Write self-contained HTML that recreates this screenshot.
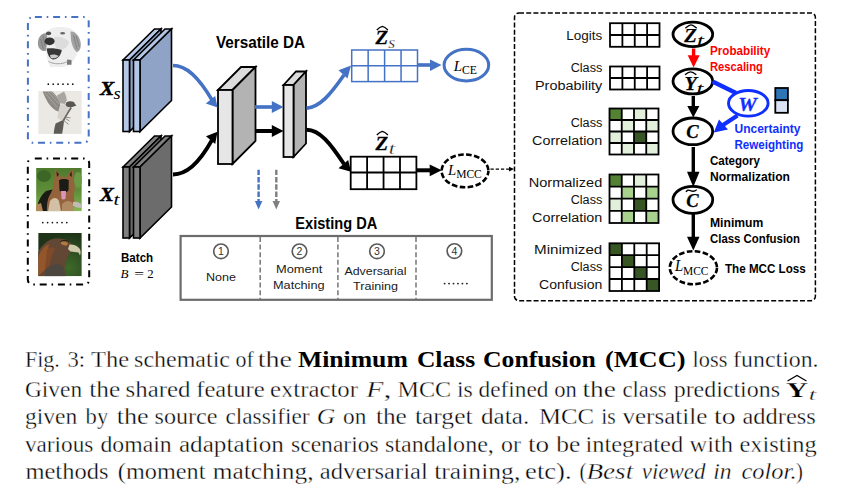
<!DOCTYPE html>
<html><head><meta charset="utf-8">
<style>
html,body{margin:0;padding:0;background:#fff;}
body{width:852px;height:495px;overflow:hidden;}
svg{display:block;}
.sn{font-family:"Liberation Sans",sans-serif;}
.sf{font-family:"Liberation Serif",serif;}
</style></head>
<body>
<svg width="852" height="495" viewBox="0 0 852 495">
<rect width="852" height="495" fill="#fff"/>

<!-- LEFT BOXES -->
<rect x="27.9" y="17.1" width="60.8" height="125.6" rx="5" fill="none" stroke="#4472c4" stroke-width="2" stroke-dasharray="7 4.8 1.6 4.8" stroke-dashoffset="-2"/>
<rect x="27.8" y="158.4" width="61.4" height="126.2" rx="5" fill="none" stroke="#000" stroke-width="2" stroke-dasharray="7 4.8 1.6 4.8" stroke-dashoffset="-2"/>

<!-- dog sketch -->
<defs>
 <filter id="bl" x="-20%" y="-20%" width="140%" height="140%"><feGaussianBlur stdDeviation="0.7"/></filter>
 <filter id="bl2" x="-20%" y="-20%" width="140%" height="140%"><feGaussianBlur stdDeviation="0.6"/></filter>
 <clipPath id="c1"><rect x="37" y="25" width="44" height="42"/></clipPath>
 <clipPath id="c2"><rect x="38.2" y="91" width="43.6" height="43.2"/></clipPath>
 <clipPath id="c3"><rect x="36.1" y="168" width="45.7" height="43.3"/></clipPath>
 <clipPath id="c4"><rect x="38.2" y="233" width="43.6" height="43.3"/></clipPath>
 <linearGradient id="gshep" x1="0" y1="0" x2="0" y2="1"><stop offset="0" stop-color="#4d7a2c"/><stop offset="0.55" stop-color="#5f8f3a"/><stop offset="1" stop-color="#86b852"/></linearGradient>
 <radialGradient id="geag" cx="0.7" cy="0.8" r="0.8"><stop offset="0" stop-color="#3e6a2a"/><stop offset="1" stop-color="#1f3318"/></radialGradient>
</defs>
<g clip-path="url(#c1)">
 <g filter="url(#bl2)">
  <path d="M45,33 C49,27.5 59,26 67,27.5 C74,29 78,34 79,40 C80,48 77,56 73,61 C70,65 65,67.5 58,67.5 L50,67.5 C48,62 46.5,56 45.5,50 Z" fill="#eeeeee"/>
  <path d="M54,37 C59,36 66,38 69,42 C68,47 64,50 58,50 C55,48 54,42 54,37 Z" fill="#dcdcdc"/>
  <path d="M38.5,39 C40,34.5 44,32.5 47,33.5 C47.5,39 46.8,45 46,50.5 C43.5,52 40.5,50.5 38.5,47 C37.5,44.5 37.8,41.5 38.5,39 Z" fill="#979797"/>
  <path d="M70.5,31.5 C75,31 79,35.5 80.5,41.5 C81.5,47.5 80,51.5 76.5,52 C73.5,49.5 72,45 71,40 Z" fill="#a2a2a2"/>
  <path d="M40.5,39 L43.5,49 M43,36 L45,46 M73.5,35 L77,49 M76,36 L79.5,47" stroke="#777" stroke-width="0.8"/>
  <ellipse cx="48.6" cy="33.4" rx="2.6" ry="1.8" fill="#505050"/>
  <ellipse cx="62.6" cy="33.3" rx="2.5" ry="1.3" fill="#6a6a6a"/>
  <ellipse cx="49.6" cy="41.3" rx="5" ry="3.9" fill="#333"/>
  <path d="M46.7,48.5 C51.5,48 57,48.5 61.8,50 C61.2,55 57.5,59.5 53,59.5 C49.5,59 47.2,54 46.7,48.5 Z" fill="#383838"/>
  <path d="M50,55 C53,54 56.5,54.5 58.8,56 C56.5,58.2 53.5,58.8 50.8,58 Z" fill="#c9c9c9"/>
  <path d="M67,59.5 L71.5,60 L71.5,64.8 L67,64.8 Z" fill="#787878"/>
  <path d="M48.5,61.5 C54,64.5 62,64.5 67.5,61.5" stroke="#a5a5a5" stroke-width="1" fill="none"/>
 </g>
</g>
<g fill="#111"><circle cx="48.3" cy="84.2" r="0.85"/><circle cx="53.2" cy="84.2" r="0.85"/><circle cx="58.1" cy="84.2" r="0.85"/><circle cx="63.0" cy="84.2" r="0.85"/><circle cx="67.9" cy="84.2" r="0.85"/><circle cx="72.8" cy="84.2" r="0.85"/></g>
<!-- bird sketch -->
<g clip-path="url(#c2)">
 <rect x="38.2" y="91" width="43.6" height="43.2" fill="#ebe9e4"/>
 <g filter="url(#bl)">
  <path d="M42.6,91.4 L52.3,91.4 C56,95 58.5,98.5 60.2,102.1 L60.2,112.3 L55.6,110.4 C52,108 50,105.5 48.2,103 C46,99 44,95 42.6,91.4 Z" fill="#8d8a85"/>
  <path d="M45,93 L57,107 M48,92 L59,104 M51,92 L59.5,101" stroke="#b5b2ac" stroke-width="0.7" fill="none"/>
  <path d="M57,95.6 L64,91.4 C65.8,94.5 66.7,97.5 66.7,100.2 L64.9,104 L59.3,103 Z" fill="#a9a6a0"/>
  <path d="M60.2,104.9 C63,104 67,103.5 70.5,106.7 C68,111 65,116 62.1,120.7 L57.4,117.9 C58,113 59,108 60.2,104.9 Z" fill="#d6d3cc"/>
  <path d="M70.5,106.7 C68,111 65,116 62.1,120.7 L64,121.6 C66.5,117 69,112 72,108 Z" fill="#6a6763"/>
  <ellipse cx="70.3" cy="104.2" rx="4.6" ry="2.9" fill="#5a5753"/>
  <path d="M74.5,103.8 L76.5,105.6 L74,106.2 Z" fill="#4a4744"/>
  <path d="M55.6,123.5 L62,120.5 L64,121.6 C63.5,125.5 63,129.5 62.1,133.8 L53.7,133.8 C54,130 54.8,126.5 55.6,123.5 Z" fill="#5e5b57"/>
  <path d="M64.9,117 L70.5,117.9 M64,120.7 L68.6,124.4 M65.5,118.5 L69.5,121" stroke="#7a7772" stroke-width="0.8" fill="none"/>
 </g>
</g>
<g fill="#111"><circle cx="42.8" cy="222.6" r="0.85"/><circle cx="47.6" cy="222.6" r="0.85"/><circle cx="52.4" cy="222.6" r="0.85"/><circle cx="57.2" cy="222.6" r="0.85"/><circle cx="62.0" cy="222.6" r="0.85"/><circle cx="66.8" cy="222.6" r="0.85"/></g>
<!-- shepherd -->
<g clip-path="url(#c3)">
 <rect x="36.1" y="168" width="45.7" height="43.3" fill="url(#gshep)"/>
 <g filter="url(#bl)">
  <ellipse cx="44" cy="176" rx="7" ry="6" fill="#3b6626"/>
  <ellipse cx="78" cy="180" rx="4" ry="8" fill="#6a9a44"/>
  <path d="M37,211.3 C37,203 40,196 46,191 L54.5,189 L55,207 L48,211.3 Z" fill="#1e1a17"/>
  <path d="M54.5,179 L54.8,168.8 C57,170.5 59.5,174 60.8,177 L67,177 C68.2,173.5 70.5,170 73.3,169.2 L73.6,180 C75,185 75,190 74,194 C73.5,199 75,203 77,206 L60,211.3 L47,211.3 C46.5,204 48,197 51,193 C53,189 53.8,184 54.5,179 Z" fill="#94633a"/>
  <path d="M56.5,171 L59,174.5 L57,177 Z M71.5,171 L69.5,175 L71.8,177 Z" fill="#2a1e16"/>
  <path d="M59,180 C61.5,178.5 66.5,178.5 68.8,180 L68.5,190.5 C66.5,193 61.5,193 59.5,190.5 Z" fill="#1f1a18"/>
  <path d="M61,191 L66,191 L65.5,198.8 C64.5,199.8 62.5,199.8 61.5,198.8 Z" fill="#dc93bd"/>
  <path d="M50,201 C53,197 57,197 59,201 L61,211.3 L48,211.3 Z" fill="#d2bfa6"/>
  <path d="M62,204 C66,200 71,200 73,204 L74,211.3 L62,211.3 Z" fill="#b08a62"/>
  <path d="M73,202 C77,201 80,203 82,205 L82,208 C78,208 75,207 73,206 Z" fill="#bfbcb6"/>
  <path d="M36,205 L41,203 L43,211.3 L36,211.3 Z" fill="#b3875a"/>
 </g>
</g>
<!-- eagle -->
<g clip-path="url(#c4)">
 <rect x="38.2" y="233" width="43.6" height="43.3" fill="url(#geag)"/>
 <g filter="url(#bl)">
  <path d="M38,252 C42,245 48,239.5 55,238.5 C61,238 66,239 69.5,241.5 L72,246 L70,253 C67,257 65,263 64.5,269 L65.5,276.3 L38,276.3 Z" fill="#634634"/>
  <path d="M38,258 C40,251 44,246 49,244 C48,252 46,261 45,270 L38,276.3 Z" fill="#93542c"/>
  <path d="M47,250 C50,247 53,247 55,249 C52,254 50,261 49,268 L45,271 Z" fill="#80492a"/>
  <path d="M45,270 C50,264 57,263 63,266 L65.5,276.3 L45,276.3 Z" fill="#4e4641"/>
  <path d="M69.5,244.5 C73,244 77,245.5 79.5,248.5 C80.8,250.5 81,253 80,255.5 L78.5,252.5 C76,251.8 73,252.2 70.5,251.5 L68,249 Z" fill="#cfc9ab"/>
  <path d="M61,242 C63,241.2 66,241.5 68,243 L67,245.5 C65,245.8 62.5,245 61,244 Z" fill="#b07a3e"/>
  <path d="M60.5,241.5 C63,240 67,240 69,242" stroke="#2a2018" stroke-width="1" fill="none"/>
 </g>
</g>

<!-- X labels -->
<g class="sf" font-weight="bold" font-style="italic" stroke="#000" stroke-width="0.45">
<text x="100" y="94.7" font-size="18.5" textLength="14.2" lengthAdjust="spacingAndGlyphs">X</text>
<text x="100" y="200.8" font-size="18.5" textLength="13.8" lengthAdjust="spacingAndGlyphs">X</text>
</g>
<g class="sf" font-style="italic">
<text x="113.6" y="98.6" font-size="16.5" textLength="7.2" lengthAdjust="spacingAndGlyphs">s</text>
<text x="113.6" y="205" font-size="16" textLength="6" lengthAdjust="spacingAndGlyphs">t</text>
</g>
<!-- blue slabs -->
<g stroke="#000" stroke-width="1.6" stroke-linejoin="miter">
 <polygon points="123,60 154.5,29 161,29 129.5,60" fill="#b4c7e7"/>
 <polygon points="129.5,60 161,29 161,100.5 129.5,131.5" fill="#8ea3c6"/>
 <rect x="123" y="60" width="6.5" height="71.5" fill="#b4c7e7"/>
 <polygon points="133.5,60 165,29 171.5,29 140,60" fill="#b4c7e7"/>
 <polygon points="140,60 171.5,29 171.5,100.5 140,131.5" fill="#8ea3c6"/>
 <rect x="133.5" y="60" width="6.5" height="71.5" fill="#b4c7e7"/>
</g>
<!-- dark slabs -->
<g stroke="#000" stroke-width="1.6">
 <polygon points="123,167 154.5,136 161,136 129.5,167" fill="#7f7f7f"/>
 <polygon points="129.5,167 161,136 161,207 129.5,238" fill="#6c6c6c"/>
 <rect x="123" y="167" width="6.5" height="71" fill="#7f7f7f"/>
 <polygon points="133.5,167 165,136 171.5,136 140,167" fill="#7f7f7f"/>
 <polygon points="140,167 171.5,136 171.5,207 140,238" fill="#6c6c6c"/>
 <rect x="133.5" y="167" width="6.5" height="71" fill="#7f7f7f"/>
</g>

<text x="121" y="262" class="sn" font-size="12.8" font-weight="bold" textLength="32.2" lengthAdjust="spacingAndGlyphs">Batch</text>
<text x="120.6" y="277.7" class="sf" font-size="12.8" font-style="italic" textLength="8" lengthAdjust="spacingAndGlyphs">B</text>
<text x="134.2" y="277.7" class="sf" font-size="12.8" textLength="9.8" lengthAdjust="spacingAndGlyphs">=</text><text x="147.2" y="277.7" class="sf" font-size="12.8" textLength="6.4" lengthAdjust="spacingAndGlyphs">2</text>

<!-- Versatile DA -->
<text x="216" y="48" class="sn" font-size="16" font-weight="bold" textLength="89" lengthAdjust="spacingAndGlyphs">Versatile DA</text>

<!-- blocks -->
<g stroke="#000" stroke-width="1.8" stroke-linejoin="miter">
 <polygon points="218,90 241,67 255.5,67 232.5,90" fill="#dcdcdc"/>
 <polygon points="232.5,90 255.5,67 255.5,141 232.5,164" fill="#b3b3b3"/>
 <rect x="218" y="90" width="14.5" height="74" fill="#e6e6e6"/>
 <polygon points="283.5,85 296,71.5 306,71.5 293.5,85" fill="#dcdcdc"/>
 <polygon points="293.5,85 306,71.5 306,143.5 293.5,157" fill="#b3b3b3"/>
 <rect x="283.5" y="85" width="10" height="72" fill="#e6e6e6"/>
</g>

<!-- arrows left -->
<g fill="none" stroke-linecap="butt">
 <path d="M173,65.5 C186,65.5 198,76 212,100" stroke="#4472c4" stroke-width="3.5"/>
 <path d="M173,174.5 C186,174 198,165 212,140" stroke="#000" stroke-width="3.8"/>
 <path d="M255,107 L273,107" stroke="#4472c4" stroke-width="3.6"/>
 <path d="M255,131 L273,131" stroke="#000" stroke-width="4"/>
 <path d="M306.5,108.3 C320,107 330,95 344,75" stroke="#4472c4" stroke-width="3.6"/>
 <path d="M306.5,129.7 C320,130 330,143 344,164" stroke="#000" stroke-width="4"/>
 <path d="M417,65 L431,65" stroke="#4472c4" stroke-width="3.6"/>
 <path d="M417,170.3 L431,170.3" stroke="#000" stroke-width="4"/>
</g>
<polygon points="217.5,107.5 205.8,103.6 215.2,96" fill="#4472c4"/>
<polygon points="217.5,131.7 206,136.2 215.2,144" fill="#000"/>
<polygon points="283.5,107 271.8,101 271.8,113" fill="#4472c4"/>
<polygon points="283.5,131 271.8,125 271.8,137" fill="#000"/>
<polygon points="351,65.5 338.5,70.3 347.5,78.5" fill="#4472c4"/>
<polygon points="351,171.8 338.5,168.2 348.2,160" fill="#000"/>
<polygon points="441.5,65 430,59.6 430,71" fill="#4472c4"/>
<polygon points="441.7,170.3 429.7,164.6 429.7,176.3" fill="#000"/>

<!-- grids Zs Zt -->
<g fill="none" stroke="#4472c4" stroke-width="1.5">
 <rect x="351.7" y="50" width="65.8" height="31.6"/>
 <path d="M351.7,65.8 H417.5 M368.15,50 V81.6 M384.6,50 V81.6 M401.05,50 V81.6"/>
</g>
<g fill="none" stroke="#000" stroke-width="1.8">
 <rect x="350.7" y="156.7" width="65.7" height="32.5"/>
 <path d="M350.7,172.5 H416.4 M367.1,156.7 V189.2 M383.55,156.7 V189.2 M400,156.7 V189.2"/>
</g>
<!-- Z labels -->
<g class="sf" font-weight="bold" font-style="italic" stroke="#000" stroke-width="0.3">
<text x="375.6" y="43.5" font-size="19.5" textLength="12.6" lengthAdjust="spacingAndGlyphs">Z</text>
<text x="375.6" y="149.5" font-size="19.5" textLength="12.6" lengthAdjust="spacingAndGlyphs">Z</text>
</g>
<path d="M376.8,30 C378.8,28 380.85,26.7 382.35,26.4 C383.85,26.7 385.9,28 387.9,30" fill="none" stroke="#000" stroke-width="1.3"/><path d="M376.8,135 C378.8,133 380.85,131.70000000000002 382.35,131.4 C383.85,131.70000000000002 385.9,133 387.9,135" fill="none" stroke="#000" stroke-width="1.3"/>
<g class="sf" font-style="italic" stroke="#fff" stroke-width="0.3">
<text x="388.2" y="47.8" font-size="17" textLength="7" lengthAdjust="spacingAndGlyphs">s</text>
<text x="388.8" y="153.8" font-size="16" textLength="6.4" lengthAdjust="spacingAndGlyphs">t</text>
</g>
<!-- L_CE -->
<ellipse cx="466.4" cy="65.1" rx="22.3" ry="15.8" fill="none" stroke="#4472c4" stroke-width="3"/>
<text x="453.8" y="71" class="sf" font-size="15.5" font-style="italic" textLength="8.4" lengthAdjust="spacingAndGlyphs">L</text>
<text x="462" y="73.7" class="sf" font-size="11.7" textLength="15" lengthAdjust="spacingAndGlyphs">CE</text>
<!-- L_MCC -->
<ellipse cx="465" cy="170.9" rx="23.4" ry="16.4" fill="none" stroke="#000" stroke-width="2.6" stroke-dasharray="5.6 2.4" stroke-dashoffset="1"/>
<text x="448" y="174.5" class="sf" font-size="15.2" font-style="italic" textLength="8.2" lengthAdjust="spacingAndGlyphs">L</text>
<text x="456.2" y="177.7" class="sf" font-size="11.6" textLength="25.6" lengthAdjust="spacingAndGlyphs">MCC</text>
<path d="M490.5,169.1 L510,169.1" stroke="#000" stroke-width="1.2" stroke-dasharray="3.3 1.9" fill="none"/>
<polygon points="514,169.1 509,166.8 509,171.4" fill="#000"/>

<!-- down dashed arrows -->
<path d="M258.6,169.7 V202" stroke="#4472c4" stroke-width="2.4" stroke-dasharray="5.4 1.9" fill="none"/>
<polygon points="254.9,201 262.3,201 258.6,209.5" fill="#4472c4"/>
<path d="M276.3,169.7 V202" stroke="#7f7f7f" stroke-width="2.4" stroke-dasharray="5.4 1.9" fill="none"/>
<polygon points="272.6,201 280,201 276.3,209.5" fill="#7f7f7f"/>

<text x="295.3" y="228.7" class="sn" font-size="15.6" font-weight="bold" textLength="82" lengthAdjust="spacingAndGlyphs">Existing DA</text>

<!-- table -->
<rect x="180.6" y="236" width="311.2" height="63.8" fill="none" stroke="#6c6c6c" stroke-width="2.2"/>
<path d="M260.2,237 V299 M337.9,237 V299 M416,237 V299" stroke="#767676" stroke-width="1.5" stroke-dasharray="5 2.6" fill="none"/>
<g fill="none" stroke="#5a5a5a" stroke-width="1.6">
 <circle cx="221" cy="251.3" r="7.3"/>
 <circle cx="299.5" cy="251.3" r="7.3"/>
 <circle cx="377" cy="251.3" r="7.3"/>
 <circle cx="454.4" cy="251.1" r="7.3"/>
</g>
<g class="sn" font-size="10.5" fill="#333" text-anchor="middle">
 <text x="221" y="254.8">1</text><text x="299.5" y="254.8">2</text><text x="377" y="254.8">3</text><text x="454.4" y="254.6">4</text>
</g>
<g class="sn" font-size="11" fill="#1a1a1a">
 <text x="206" y="281" textLength="30" lengthAdjust="spacingAndGlyphs">None</text>
 <text x="276" y="273" textLength="46.4" lengthAdjust="spacingAndGlyphs">Moment</text>
 <text x="273" y="289" textLength="51.6" lengthAdjust="spacingAndGlyphs">Matching</text>
 <text x="344.4" y="275" textLength="62" lengthAdjust="spacingAndGlyphs">Adversarial</text>
 <text x="353" y="290" textLength="45" lengthAdjust="spacingAndGlyphs">Training</text>
</g>
<g fill="#222"><circle cx="444.60" cy="283.6" r="0.95"/><circle cx="449.05" cy="283.6" r="0.95"/><circle cx="453.50" cy="283.6" r="0.95"/><circle cx="457.95" cy="283.6" r="0.95"/><circle cx="462.40" cy="283.6" r="0.95"/><circle cx="466.85" cy="283.6" r="0.95"/></g>

<!-- RIGHT PANEL -->
<rect x="514.5" y="12.9" width="300.9" height="287.8" rx="4.5" fill="none" stroke="#000" stroke-width="1.5" stroke-dasharray="5 2.2"/>

<g class="sn" font-size="13.7" fill="#111">
 <text x="566.3" y="39.8" textLength="36" lengthAdjust="spacingAndGlyphs">Logits</text>
 <text x="570.7" y="72.2" textLength="31.6" lengthAdjust="spacingAndGlyphs">Class</text>
 <text x="535.0" y="89.6" textLength="67.3" lengthAdjust="spacingAndGlyphs">Probability</text>
 <text x="570.7" y="127.3" textLength="31.6" lengthAdjust="spacingAndGlyphs">Class</text>
 <text x="532.1" y="144.9" textLength="70.2" lengthAdjust="spacingAndGlyphs">Correlation</text>
 <text x="528.7" y="186.8" textLength="73.6" lengthAdjust="spacingAndGlyphs">Normalized</text>
 <text x="570.7" y="204" textLength="31.6" lengthAdjust="spacingAndGlyphs">Class</text>
 <text x="532.1" y="221.5" textLength="70.2" lengthAdjust="spacingAndGlyphs">Correlation</text>
 <text x="534.1" y="254.2" textLength="68.2" lengthAdjust="spacingAndGlyphs">Minimized</text>
 <text x="570.7" y="271.4" textLength="31.6" lengthAdjust="spacingAndGlyphs">Class</text>
 <text x="539.0" y="289" textLength="63.3" lengthAdjust="spacingAndGlyphs">Confusion</text>
</g>

<!-- grids right -->
<g fill="none" stroke="#000" stroke-width="1.8">
 <rect x="610" y="23.2" width="49.5" height="23.6"/>
 <path d="M610,35 H659.5 M622.4,23.2 V46.8 M634.75,23.2 V46.8 M647.1,23.2 V46.8"/>
 <rect x="610" y="66.5" width="49.5" height="23"/>
 <path d="M610,78 H659.5 M622.4,66.5 V89.5 M634.75,66.5 V89.5 M647.1,66.5 V89.5"/>
</g>
<g id="cc">
 <rect x="609.5" y="108.5" width="12.25" height="11.5" fill="#548235"/>
 <rect x="634" y="108.5" width="12.25" height="11.5" fill="#e2efda"/>
 <rect x="621.75" y="120" width="12.25" height="11.5" fill="#e2efda"/>
 <rect x="646.25" y="120" width="12.25" height="11.5" fill="#e2efda"/>
 <rect x="609.5" y="131.5" width="12.25" height="11.5" fill="#e2efda"/>
 <rect x="634" y="131.5" width="12.25" height="11.5" fill="#375623"/>
 <rect x="621.75" y="143" width="12.25" height="11.5" fill="#e2efda"/>
 <rect x="646.25" y="143" width="12.25" height="11.5" fill="#e2efda"/>
</g>
<g fill="none" stroke="#000" stroke-width="1.8">
 <rect x="609.5" y="108.5" width="49" height="46"/>
 <path d="M609.5,120 H658.5 M609.5,131.5 H658.5 M609.5,143 H658.5 M621.75,108.5 V154.5 M634,108.5 V154.5 M646.25,108.5 V154.5"/>
</g>
<g>
 <rect x="609.5" y="174.5" width="12.25" height="12.1" fill="#548235"/>
 <rect x="634" y="174.5" width="12.25" height="12.1" fill="#e2efda"/>
 <rect x="621.75" y="186.6" width="12.25" height="12.1" fill="#a9d18e"/>
 <rect x="646.25" y="186.6" width="12.25" height="12.1" fill="#a9d18e"/>
 <rect x="609.5" y="198.7" width="12.25" height="12.1" fill="#e2efda"/>
 <rect x="634" y="198.7" width="12.25" height="12.1" fill="#375623"/>
 <rect x="621.75" y="210.8" width="12.25" height="12.1" fill="#a9d18e"/>
 <rect x="646.25" y="210.8" width="12.25" height="12.1" fill="#a9d18e"/>
</g>
<g fill="none" stroke="#000" stroke-width="1.8">
 <rect x="609.5" y="174.5" width="49" height="48.5"/>
 <path d="M609.5,186.6 H658.5 M609.5,198.7 H658.5 M609.5,210.8 H658.5 M621.75,174.5 V223 M634,174.5 V223 M646.25,174.5 V223"/>
</g>
<g fill="#375623">
 <rect x="609.5" y="243.3" width="12.4" height="11.9"/>
 <rect x="621.9" y="255.2" width="12.4" height="11.9"/>
 <rect x="634.3" y="267.1" width="12.4" height="11.9"/>
 <rect x="646.7" y="279" width="12.4" height="11.9"/>
</g>
<g fill="none" stroke="#000" stroke-width="1.8">
 <rect x="609.5" y="243.3" width="49.6" height="47.7"/>
 <path d="M609.5,255.2 H659.1 M609.5,267.1 H659.1 M609.5,279 H659.1 M621.9,243.3 V291 M634.3,243.3 V291 M646.7,243.3 V291"/>
</g>

<!-- right column nodes -->
<g fill="none" stroke="#000" stroke-width="2.8">
 <ellipse cx="692.85" cy="34.35" rx="19.85" ry="12.25"/>
 <ellipse cx="692.85" cy="81.35" rx="19.85" ry="12.55"/>
 <ellipse cx="692.85" cy="131.35" rx="19.85" ry="13.35"/>
 <ellipse cx="692.85" cy="199.8" rx="19.85" ry="13.5"/>
 <ellipse cx="693.4" cy="267.7" rx="23.6" ry="16.5" stroke-width="2.6" stroke-dasharray="5.6 2.4"/>
 <path d="M693.3,96 V107 M693.3,147 V173 M693.3,213.5 V238" stroke-width="3.4"/>
</g>
<path d="M693.6,48.5 V56" stroke="#ff0000" stroke-width="3.4"/>
<polygon points="687.7,55.3 699.7,55.3 693.6,67.5" fill="#ff0000"/>
<polygon points="687.3,106 699.4,106 693.3,117.5" fill="#000"/>
<polygon points="687,171.7 699.5,171.7 693.3,187" fill="#000"/>
<polygon points="687,236.7 699.5,236.7 693.3,250.5" fill="#000"/>

<!-- W -->
<path d="M712.5,81.5 L736,93" stroke="#0f2fff" stroke-width="4.2"/>
<ellipse cx="748.3" cy="103.3" rx="19.8" ry="12.8" fill="#fff" stroke="#0f2fff" stroke-width="2.9"/>
<path d="M737.5,115.5 L723,125" stroke="#0f2fff" stroke-width="4.2"/>
<polygon points="713.8,132.5 719,119.5 728,129.5" fill="#0f2fff"/>
<text x="738.3" y="110.6" class="sf" font-size="18.5" font-weight="bold" font-style="italic" fill="#0f2fff" stroke="#0f2fff" stroke-width="0.3" textLength="18.5" lengthAdjust="spacingAndGlyphs">W</text>
<rect x="775.3" y="88" width="12.6" height="12.2" fill="#2e75b6" stroke="#000" stroke-width="1.8"/>
<rect x="775.3" y="100.2" width="12.6" height="12.6" fill="#dae3f3" stroke="#000" stroke-width="1.8"/>

<!-- node labels -->
<g class="sf" font-weight="bold" font-style="italic" fill="#000" stroke="#000" stroke-width="0.25">
<text x="684.2" y="41.8" font-size="19.8" textLength="12.6" lengthAdjust="spacingAndGlyphs">Z</text>
<text x="684.6" y="89.9" font-size="19.8" textLength="12.4" lengthAdjust="spacingAndGlyphs">Y</text>
<text x="686.2" y="137.8" font-size="19.5" textLength="12.4" lengthAdjust="spacingAndGlyphs">C</text>
<text x="686.2" y="206.8" font-size="19.5" textLength="12.4" lengthAdjust="spacingAndGlyphs">C</text>
</g>
<g fill="none" stroke="#000" stroke-width="1.2">
<path stroke-width="1.3" d="M685.4,28.2 C687.9,26.0 689.0,24.8 691.0,24.8 C693.0,24.8 694.2,26.0 696.7,28.2"/>
<path stroke-width="1.3" d="M685,74.8 C687.5,72.6 688.6,71.8 690.6,71.8 C692.6,71.8 693.8,72.6 696.3,74.8"/>
<path stroke-width="1.3" d="M686,192 C687,190 688.5,189.6 690.5,190.6 C692.5,191.6 694.5,191.8 696.8,189.6"/>
</g>
<g class="sf" font-style="italic" fill="#000">
<text x="697" y="45.8" font-size="16" textLength="7" lengthAdjust="spacingAndGlyphs">t</text>
<text x="696.4" y="93.9" font-size="16" textLength="7" lengthAdjust="spacingAndGlyphs">t</text>
<text x="675" y="270.9" font-size="15.8" textLength="8.2" lengthAdjust="spacingAndGlyphs">L</text>
</g>
<text x="683" y="275" class="sf" font-size="13" textLength="25.5" lengthAdjust="spacingAndGlyphs">MCC</text>

<g class="sn" font-weight="bold" font-size="12.5">
 <text x="710" y="54.9" fill="#ff0000" textLength="60.2" lengthAdjust="spacingAndGlyphs">Probability</text>
 <text x="710" y="71" fill="#ff0000" textLength="52.8" lengthAdjust="spacingAndGlyphs">Rescaling</text>
 <text x="734.5" y="133.2" fill="#0f2fff" textLength="66" lengthAdjust="spacingAndGlyphs">Uncertainty</text>
 <text x="734.5" y="148.8" fill="#0f2fff" textLength="68.8" lengthAdjust="spacingAndGlyphs">Reweighting</text>
 <text x="710" y="165.2" fill="#000" textLength="50" lengthAdjust="spacingAndGlyphs">Category</text>
 <text x="710" y="180.8" fill="#000" textLength="80" lengthAdjust="spacingAndGlyphs">Normalization</text>
 <text x="710" y="226.8" fill="#000" textLength="53.3" lengthAdjust="spacingAndGlyphs">Minimum</text>
 <text x="710" y="243.3" fill="#000" textLength="90" lengthAdjust="spacingAndGlyphs">Class Confusion</text>
 <text x="725" y="273.3" fill="#000" textLength="80.7" lengthAdjust="spacingAndGlyphs">The MCC Loss</text>
</g>

<g class="sf" font-size="22.5" fill="#000" stroke="#fff" stroke-width="0.35">
<text x="24.9" y="367.0" textLength="35.0" lengthAdjust="spacingAndGlyphs">Fig.</text>
<text x="67.5" y="367.0" textLength="17.6" lengthAdjust="spacingAndGlyphs">3:</text>
<text x="91.0" y="367.0" textLength="38.0" lengthAdjust="spacingAndGlyphs">The</text>
<text x="134.1" y="367.0" textLength="95.9" lengthAdjust="spacingAndGlyphs">schematic</text>
<text x="235.5" y="367.0" textLength="18.3" lengthAdjust="spacingAndGlyphs">of</text>
<text x="257.7" y="367.0" textLength="34.3" lengthAdjust="spacingAndGlyphs">the</text>
<text x="297.9" y="367.0" font-weight="bold" stroke="none" textLength="109.9" lengthAdjust="spacingAndGlyphs">Minimum</text>
<text x="416.9" y="367.0" font-weight="bold" stroke="none" textLength="58.2" lengthAdjust="spacingAndGlyphs">Class</text>
<text x="483.0" y="367.0" font-weight="bold" stroke="none" textLength="112.9" lengthAdjust="spacingAndGlyphs">Confusion</text>
<text x="604.9" y="367.0" font-weight="bold" stroke="none" textLength="80.6" lengthAdjust="spacingAndGlyphs">(MCC)</text>
<text x="692.6" y="367.0" textLength="34.8" lengthAdjust="spacingAndGlyphs">loss</text>
<text x="733.1" y="367.0" textLength="85.5" lengthAdjust="spacingAndGlyphs">function.</text>
<text x="24.9" y="396.8" textLength="57.2" lengthAdjust="spacingAndGlyphs">Given</text>
<text x="89.3" y="396.8" textLength="31.0" lengthAdjust="spacingAndGlyphs">the</text>
<text x="125.5" y="396.8" textLength="65.0" lengthAdjust="spacingAndGlyphs">shared</text>
<text x="196.2" y="396.8" textLength="68.5" lengthAdjust="spacingAndGlyphs">feature</text>
<text x="270.0" y="396.8" textLength="87.9" lengthAdjust="spacingAndGlyphs">extractor</text>
<text x="366.3" y="396.8" font-style="italic" textLength="17.2" lengthAdjust="spacingAndGlyphs">F</text>
<text x="383.5" y="396.8" textLength="8.0" lengthAdjust="spacingAndGlyphs">,</text>
<text x="397.6" y="396.8" textLength="53.6" lengthAdjust="spacingAndGlyphs">MCC</text>
<text x="457.0" y="396.8" textLength="15.8" lengthAdjust="spacingAndGlyphs">is</text>
<text x="478.5" y="396.8" textLength="70.0" lengthAdjust="spacingAndGlyphs">defined</text>
<text x="554.2" y="396.8" textLength="22.6" lengthAdjust="spacingAndGlyphs">on</text>
<text x="582.5" y="396.8" textLength="33.4" lengthAdjust="spacingAndGlyphs">the</text>
<text x="622.5" y="396.8" textLength="44.1" lengthAdjust="spacingAndGlyphs">class</text>
<text x="673.7" y="396.8" textLength="106.3" lengthAdjust="spacingAndGlyphs">predictions</text>
<text x="24.9" y="424.1" textLength="52.3" lengthAdjust="spacingAndGlyphs">given</text>
<text x="85.6" y="424.1" textLength="22.6" lengthAdjust="spacingAndGlyphs">by</text>
<text x="116.7" y="424.1" textLength="32.0" lengthAdjust="spacingAndGlyphs">the</text>
<text x="154.5" y="424.1" textLength="63.0" lengthAdjust="spacingAndGlyphs">source</text>
<text x="225.5" y="424.1" textLength="84.0" lengthAdjust="spacingAndGlyphs">classifier</text>
<text x="316.7" y="424.1" font-style="italic" textLength="18.5" lengthAdjust="spacingAndGlyphs">G</text>
<text x="343.0" y="424.1" textLength="23.3" lengthAdjust="spacingAndGlyphs">on</text>
<text x="375.9" y="424.1" textLength="30.9" lengthAdjust="spacingAndGlyphs">the</text>
<text x="414.9" y="424.1" textLength="57.7" lengthAdjust="spacingAndGlyphs">target</text>
<text x="481.0" y="424.1" textLength="48.3" lengthAdjust="spacingAndGlyphs">data.</text>
<text x="539.1" y="424.1" textLength="55.0" lengthAdjust="spacingAndGlyphs">MCC</text>
<text x="601.2" y="424.1" textLength="14.5" lengthAdjust="spacingAndGlyphs">is</text>
<text x="622.4" y="424.1" textLength="84.9" lengthAdjust="spacingAndGlyphs">versatile</text>
<text x="714.1" y="424.1" textLength="21.6" lengthAdjust="spacingAndGlyphs">to</text>
<text x="742.5" y="424.1" textLength="73.3" lengthAdjust="spacingAndGlyphs">address</text>
<text x="24.9" y="451.8" textLength="68.5" lengthAdjust="spacingAndGlyphs">various</text>
<text x="100.5" y="451.8" textLength="71.2" lengthAdjust="spacingAndGlyphs">domain</text>
<text x="178.9" y="451.8" textLength="105.0" lengthAdjust="spacingAndGlyphs">adaptation</text>
<text x="291.0" y="451.8" textLength="87.7" lengthAdjust="spacingAndGlyphs">scenarios</text>
<text x="384.9" y="451.8" textLength="109.0" lengthAdjust="spacingAndGlyphs">standalone,</text>
<text x="501.0" y="451.8" textLength="19.9" lengthAdjust="spacingAndGlyphs">or</text>
<text x="528.0" y="451.8" textLength="21.2" lengthAdjust="spacingAndGlyphs">to</text>
<text x="556.3" y="451.8" textLength="24.0" lengthAdjust="spacingAndGlyphs">be</text>
<text x="585.4" y="451.8" textLength="97.8" lengthAdjust="spacingAndGlyphs">integrated</text>
<text x="689.5" y="451.8" textLength="43.6" lengthAdjust="spacingAndGlyphs">with</text>
<text x="739.4" y="451.8" textLength="77.3" lengthAdjust="spacingAndGlyphs">existing</text>
<text x="25.4" y="479.3" textLength="83.1" lengthAdjust="spacingAndGlyphs">methods</text>
<text x="117.8" y="479.3" textLength="87.6" lengthAdjust="spacingAndGlyphs">(moment</text>
<text x="212.7" y="479.3" textLength="100.8" lengthAdjust="spacingAndGlyphs">matching,</text>
<text x="319.8" y="479.3" textLength="108.1" lengthAdjust="spacingAndGlyphs">adversarial</text>
<text x="434.2" y="479.3" textLength="86.1" lengthAdjust="spacingAndGlyphs">training,</text>
<text x="525.1" y="479.3" textLength="46.5" lengthAdjust="spacingAndGlyphs">etc).</text>
<text x="579.5" y="479.3" textLength="7.0" lengthAdjust="spacingAndGlyphs">(</text>
<text x="586.5" y="479.3" font-style="italic" textLength="46.7" lengthAdjust="spacingAndGlyphs">Best</text>
<text x="641.7" y="479.3" font-style="italic" textLength="63.8" lengthAdjust="spacingAndGlyphs">viewed</text>
<text x="713.2" y="479.3" font-style="italic" textLength="18.3" lengthAdjust="spacingAndGlyphs">in</text>
<text x="741.5" y="479.3" font-style="italic" textLength="55.0" lengthAdjust="spacingAndGlyphs">color.</text>
<text x="796.0" y="479.3" textLength="6.9" lengthAdjust="spacingAndGlyphs">)</text>
</g>
<text x="786" y="397.4" class="sf" font-size="22" font-weight="bold" stroke="#fff" stroke-width="0.25" textLength="22" lengthAdjust="spacingAndGlyphs">Y</text>
<path d="M787.5,381 L797,375.5 L806.5,381" fill="none" stroke="#000" stroke-width="1.2"/>
<text x="808.8" y="400.3" class="sf" font-size="16" font-style="italic" stroke="#fff" stroke-width="0.3" textLength="7.4" lengthAdjust="spacingAndGlyphs">t</text>
</svg>
</body></html>
